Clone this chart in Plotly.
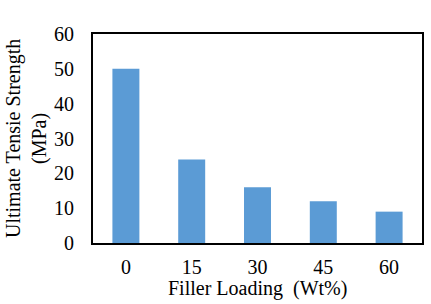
import plotly.graph_objects as go

categories = ["0", "15", "30", "45", "60"]
values = [50, 24, 16, 12, 9]
y_ticks = [0, 10, 20, 30, 40, 50, 60]

FONT = "Liberation Serif, Times New Roman, serif"

fig = go.Figure(go.Bar(x=categories, y=values, marker=dict(color="#5B9BD5", line=dict(width=0))))

fig.update_layout(
    width=431, height=304,
    margin=dict(l=93, r=9, t=34, b=61, autoexpand=False),
    paper_bgcolor="white", plot_bgcolor="white",
    bargap=0.59,
    showlegend=False,
    font=dict(family=FONT, size=20, color="black"),
    xaxis=dict(
        type="category", automargin=False,
        showline=True, linecolor="black", linewidth=2, mirror=True,
        ticks="", ticklabelstandoff=5,
        tickfont=dict(size=20),
    ),
    yaxis=dict(
        range=[0, 60], tickvals=y_ticks, automargin=False,
        showline=True, linecolor="black", linewidth=2, mirror=True,
        showgrid=False, zeroline=False,
        ticks="", ticklabelstandoff=13,
        tickfont=dict(size=20),
    ),
    annotations=[
        dict(text="Filler Loading  (Wt%)", xref="paper", yref="paper",
             x=0.5, y=-0.22, xanchor="center", yanchor="middle",
             showarrow=False, font=dict(size=20)),
        dict(text="Ultimate Tensie Strength<br>(MPa)", xref="paper", yref="paper",
             x=-0.202, y=0.5, xanchor="center", yanchor="middle", textangle=-90,
             showarrow=False, font=dict(size=20)),
    ],
)

fig.write_html("out.html", config={"displayModeBar": False},
               post_script="document.body.style.margin='0';document.body.style.overflow='hidden';")
